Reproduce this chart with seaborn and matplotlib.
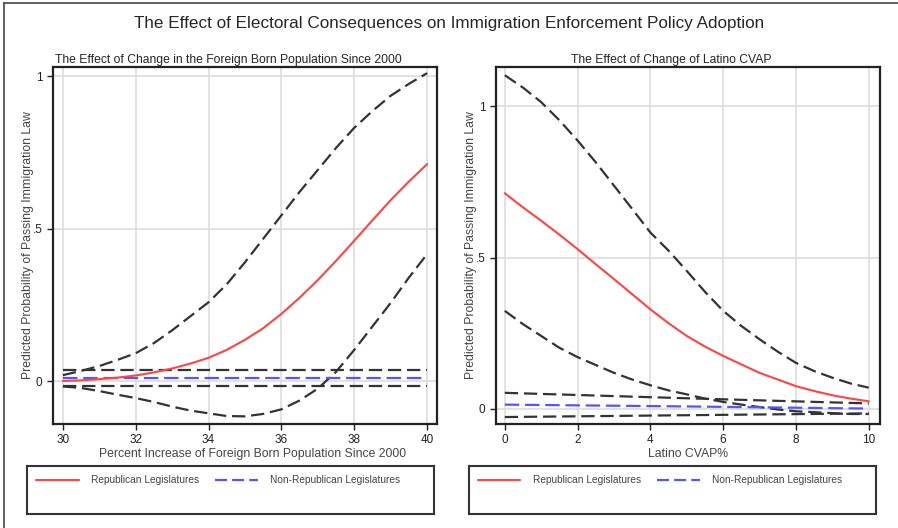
import numpy as np
import pandas as pd
import matplotlib
matplotlib.use("Agg")
import matplotlib.pyplot as plt
from matplotlib.lines import Line2D
import seaborn as sns

sns.set_style("white")
plt.rcParams['font.family'] = ['Liberation Sans', 'DejaVu Sans']

# left panel: foreign born population change (read at half steps)
fb_x = [30, 30.5, 31, 31.5, 32, 32.5, 33, 33.5, 34, 34.5, 35,
        35.5, 36, 36.5, 37, 37.5, 38, 38.5, 39, 39.5, 40]
fb_rep = [0.001, 0.003, 0.007, 0.012, 0.019, 0.029, 0.042, 0.058, 0.077, 0.103, 0.136,
          0.174, 0.221, 0.274, 0.332, 0.395, 0.461, 0.528, 0.594, 0.655, 0.712]
fb_rep_hi = [0.020, 0.034, 0.050, 0.070, 0.092, 0.125, 0.167, 0.213, 0.259, 0.318, 0.390,
             0.467, 0.544, 0.621, 0.693, 0.765, 0.831, 0.886, 0.936, 0.975, 1.010]
fb_rep_lo = [-0.017, -0.022, -0.032, -0.044, -0.055, -0.068, -0.083, -0.096, -0.105, -0.114, -0.115,
             -0.107, -0.092, -0.063, -0.024, 0.031, 0.103, 0.180, 0.257, 0.340, 0.417]
fb_non_x = [30, 35, 40]
fb_non = [0.011, 0.011, 0.011]
fb_non_hi = [0.036, 0.036, 0.036]
fb_non_lo = [-0.017, -0.017, -0.017]

# right panel: latino CVAP
cv_x = [0, 0.5, 1, 1.5, 2, 2.5, 3, 3.5, 4, 4.5, 5,
        5.5, 6, 6.5, 7, 7.5, 8, 8.5, 9, 9.5, 10]
cv_rep = [0.713, 0.666, 0.622, 0.576, 0.528, 0.478, 0.429, 0.379, 0.329, 0.283, 0.241,
          0.206, 0.175, 0.147, 0.119, 0.097, 0.075, 0.059, 0.045, 0.034, 0.025]
cv_rep_hi = [1.103, 1.062, 1.014, 0.954, 0.887, 0.815, 0.738, 0.661, 0.583, 0.523, 0.456,
             0.387, 0.324, 0.274, 0.230, 0.189, 0.152, 0.125, 0.103, 0.084, 0.070]
cv_rep_lo = [0.324, 0.280, 0.241, 0.202, 0.171, 0.145, 0.119, 0.097, 0.078, 0.061, 0.048,
             0.034, 0.023, 0.014, 0.006, -0.002, -0.008, -0.011, -0.014, -0.017, -0.017]
cv_non_x = [0, 5, 10]
cv_non = [0.014, 0.008, 0.001]
cv_non_hi = [0.053, 0.035, 0.018]
cv_non_lo = [-0.027, -0.021, -0.015]

y_ticks = [0, 0.5, 1]
y_labels = ['0', '.5', '1']
ylab = 'Predicted Probability of Passing Immigration Law'

ci_color = '#333333'
rep_color = '#ff4444'
non_color = '#5555ff'
ci_dash = (0, (6, 2.6))
non_dash = (0, (6.5, 2.6))

fig = plt.figure(figsize=(8.98, 5.28), dpi=100)

ax1 = fig.add_axes([0.059, 0.197, 0.4276, 0.676])
ax2 = fig.add_axes([0.552, 0.197, 0.4276, 0.676])


def draw_panel(ax, x, rep, rep_hi, rep_lo, nx, non, non_hi, non_lo):
    df = pd.DataFrame({'x': x, 'rep': rep, 'rep_hi': rep_hi, 'rep_lo': rep_lo})
    dn = pd.DataFrame({'x': nx, 'non': non, 'non_hi': non_hi, 'non_lo': non_lo})
    for d, col in [(df, 'rep_hi'), (df, 'rep_lo'), (dn, 'non_hi'), (dn, 'non_lo')]:
        sns.lineplot(data=d, x='x', y=col, ax=ax, color=ci_color, lw=1.6,
                     linestyle=ci_dash)
    sns.lineplot(data=dn, x='x', y='non', ax=ax, color=non_color, lw=1.6,
                 linestyle=non_dash)
    sns.lineplot(data=df, x='x', y='rep', ax=ax, color=rep_color, lw=1.5)
    ax.grid(True, color='#dddddd', lw=1.2)
    ax.set_axisbelow(True)
    for s in ax.spines.values():
        s.set_color('#222222')
        s.set_linewidth(1.6)
    ax.set_yticks(y_ticks)
    ax.set_yticklabels(y_labels)
    ax.tick_params(direction='out', length=4, width=1, labelsize=8.5,
                   colors='#222222', bottom=True, left=True)
    ax.set_ylabel(ylab, fontsize=8.8, color='#444444', labelpad=-1)


draw_panel(ax1, fb_x, fb_rep, fb_rep_hi, fb_rep_lo, fb_non_x, fb_non, fb_non_hi, fb_non_lo)
ax1.set_xlim(29.73, 40.27)
ax1.set_ylim(-0.14, 1.03)
ax1.set_xticks([30, 32, 34, 36, 38, 40])
ax1.set_xlabel('Percent Increase of Foreign Born Population Since 2000',
               fontsize=8.8, color='#444444', labelpad=1, x=0.52)
ax1.set_title('The Effect of Change in the Foreign Born Population Since 2000',
              fontsize=8.7, pad=3, x=0.458)

draw_panel(ax2, cv_x, cv_rep, cv_rep_hi, cv_rep_lo, cv_non_x, cv_non, cv_non_hi, cv_non_lo)
ax2.set_xlim(-0.25, 10.3)
ax2.set_ylim(-0.05, 1.13)
ax2.set_xticks([0, 2, 4, 6, 8, 10])
ax2.set_xlabel('Latino CVAP%', fontsize=8.8, color='#444444', labelpad=1)
ax2.set_title('The Effect of Change of Latino CVAP', fontsize=8.7, pad=3, x=0.456)

# legend boxes
handles = [Line2D([], [], color=rep_color, lw=1.5),
           Line2D([], [], color=non_color, lw=1.6, linestyle=(0, (5.4, 2.3)))]
names = ['Republican Legislatures', 'Non-Republican Legislatures']
for left in [0.030, 0.522]:
    lax = fig.add_axes([left, 0.0265, 0.4535, 0.091])
    lax.set_xticks([])
    lax.set_yticks([])
    for s in lax.spines.values():
        s.set_color('#333333')
        s.set_linewidth(1.5)
    lax.legend(handles, names, loc='upper left', ncol=2, frameon=False,
               fontsize=7.3, handlelength=4.2, handletextpad=1.2, columnspacing=1.6,
               bbox_to_anchor=(0.0, 1.0), borderaxespad=0.5,
               labelcolor='#444444')

fig.text(0.5, 0.955, 'The Effect of Electoral Consequences on Immigration Enforcement Policy Adoption',
         ha='center', va='center', fontsize=12.3)

# outer frame (top and left edges)
fig.add_artist(Line2D([0.005, 1.0], [0.995, 0.995], color='#444444', lw=1.2))
fig.add_artist(Line2D([0.005, 0.005], [0.0, 0.995], color='#444444', lw=1.2))

fig.savefig('out.png', dpi=100)
